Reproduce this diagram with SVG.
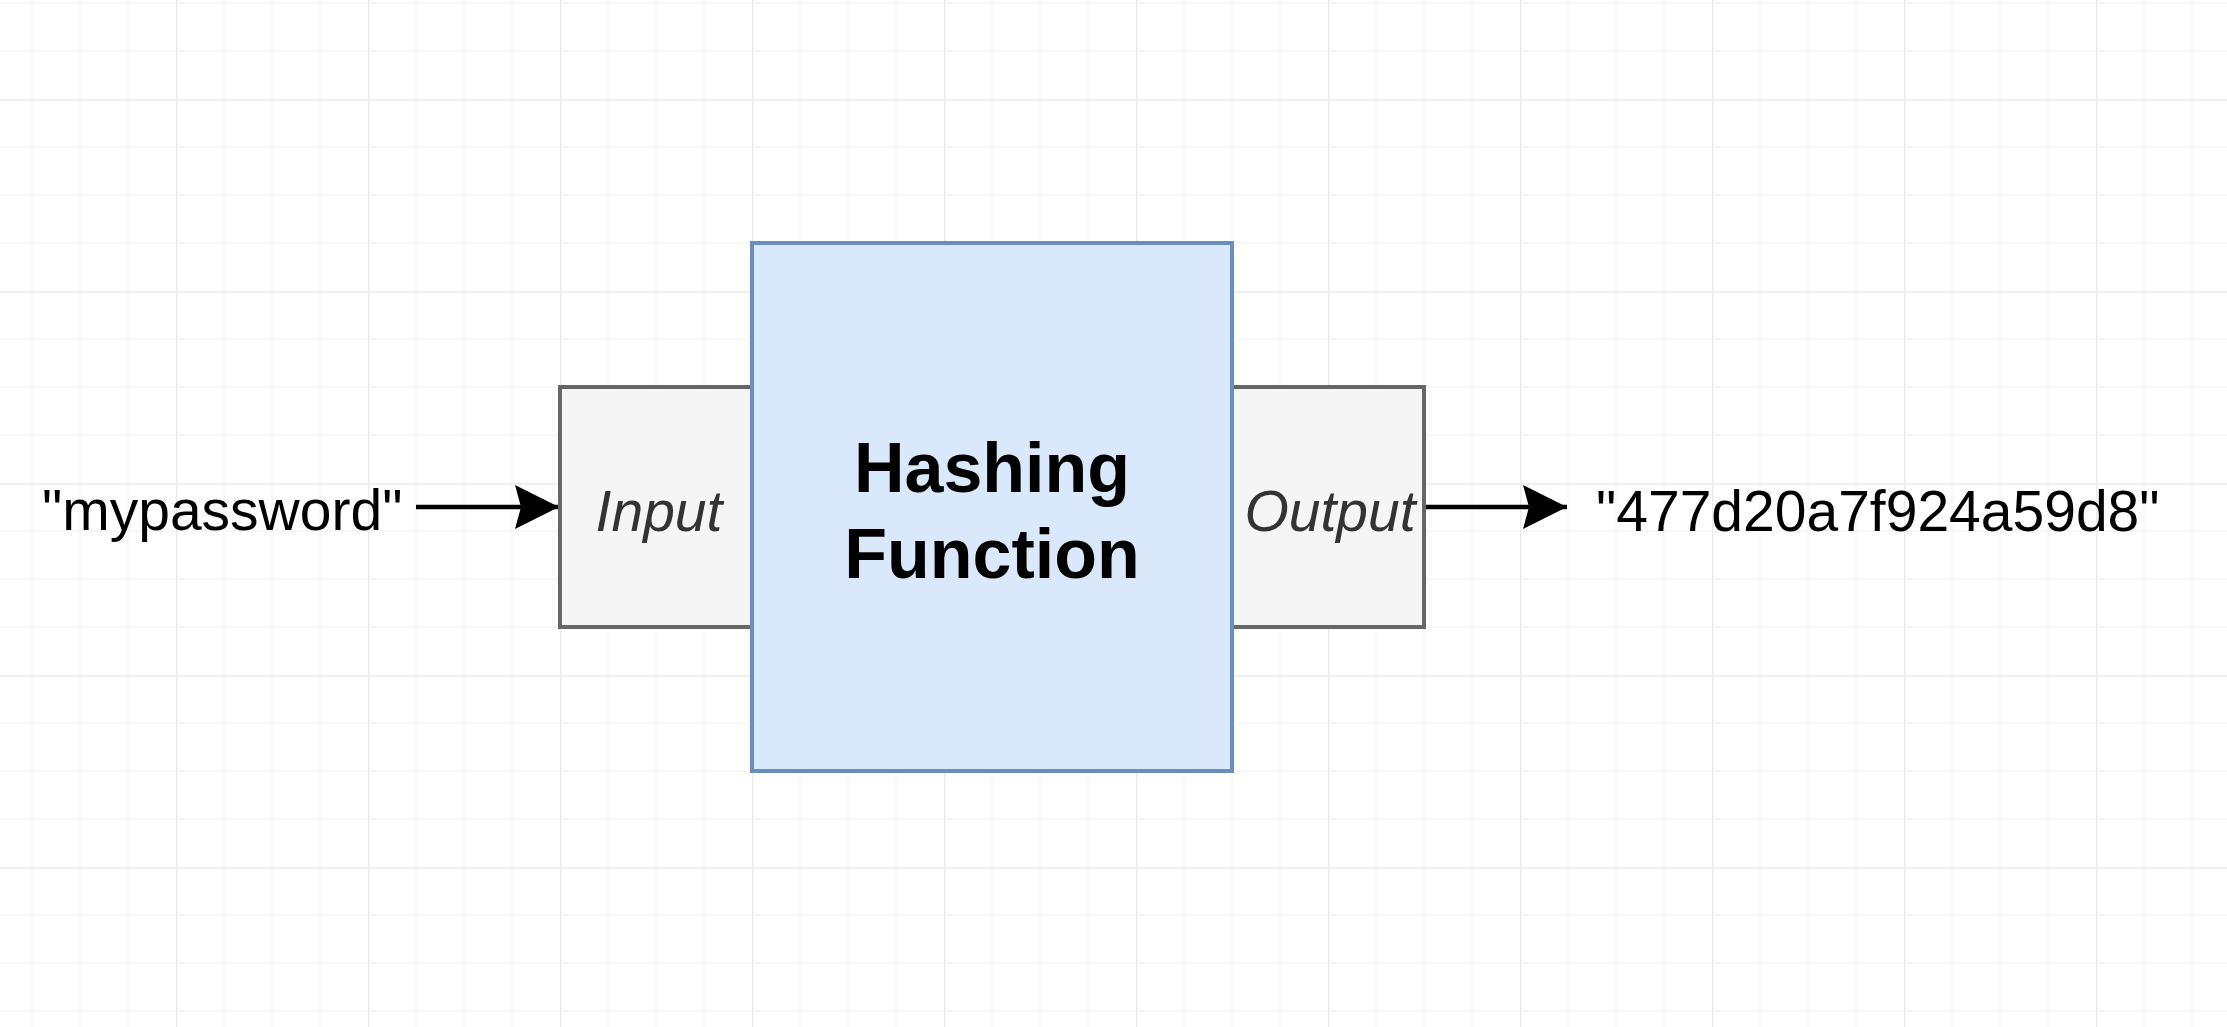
<svg xmlns="http://www.w3.org/2000/svg" width="2227" height="1027" viewBox="0 0 2227 1027">
  <style>
    .io { fill: #f5f5f5; stroke: #666666; stroke-width: 4; }
    .main { fill: #dae8fc; stroke: #6c8ebf; stroke-width: 4; }
    .lbl { font-family: "Liberation Sans", Arial, sans-serif; font-size: 57px; fill: #000000; }
    .io-text { font-family: "Liberation Sans", Arial, sans-serif; font-size: 57px; font-style: italic; fill: #333333; text-anchor: middle; }
    .title { font-family: "Liberation Sans", Arial, sans-serif; font-size: 70px; font-weight: bold; fill: #000000; text-anchor: middle; }
    .edge { stroke: #000000; stroke-width: 4.5; fill: none; }
  </style>
  <defs>
    <pattern id="grid" x="176" y="99" width="192" height="192" patternUnits="userSpaceOnUse">
      <path d="M48 0V192M96 0V192M144 0V192M0 48H192M0 96H192M0 144H192" stroke="#f6f6f6" stroke-width="1.5" fill="none"/>
      <path d="M0.75 0V192M0 0.75H192" stroke="#ebebeb" stroke-width="1.5" fill="none"/>
    </pattern>
    <marker id="arrow" markerUnits="userSpaceOnUse" markerWidth="46" markerHeight="46" refX="44" refY="23" orient="auto">
      <path d="M0 1 L44 23 L0 45 L6 23 Z" fill="#000000"/>
    </marker>
  </defs>
  <rect x="0" y="0" width="2227" height="1027" fill="#ffffff"/>
  <rect x="0" y="0" width="2227" height="1027" fill="url(#grid)"/>

  <g id="connectors">
    <path class="edge" d="M416 507 H559" marker-end="url(#arrow)"/>
    <path class="edge" d="M1426 507 H1567" marker-end="url(#arrow)"/>
  </g>

  <g id="node-input">
    <rect class="io" x="560" y="387" width="192" height="240"/>
    <text class="io-text" x="659" y="531">Input</text>
  </g>
  <g id="node-output">
    <rect class="io" x="1232" y="387" width="192" height="240"/>
    <text class="io-text" x="1330" y="531">Output</text>
  </g>
  <g id="node-hash">
    <rect class="main" x="752" y="243" width="480" height="528"/>
    <text class="title" x="992" y="492">Hashing</text>
    <text class="title" x="992" y="578">Function</text>
  </g>
  <g id="label-password">
    <text class="lbl" x="42" y="530">"mypassword"</text>
  </g>
  <g id="label-hash">
    <text class="lbl" x="1596" y="531">"477d20a7f924a59d8"</text>
  </g>
</svg>
